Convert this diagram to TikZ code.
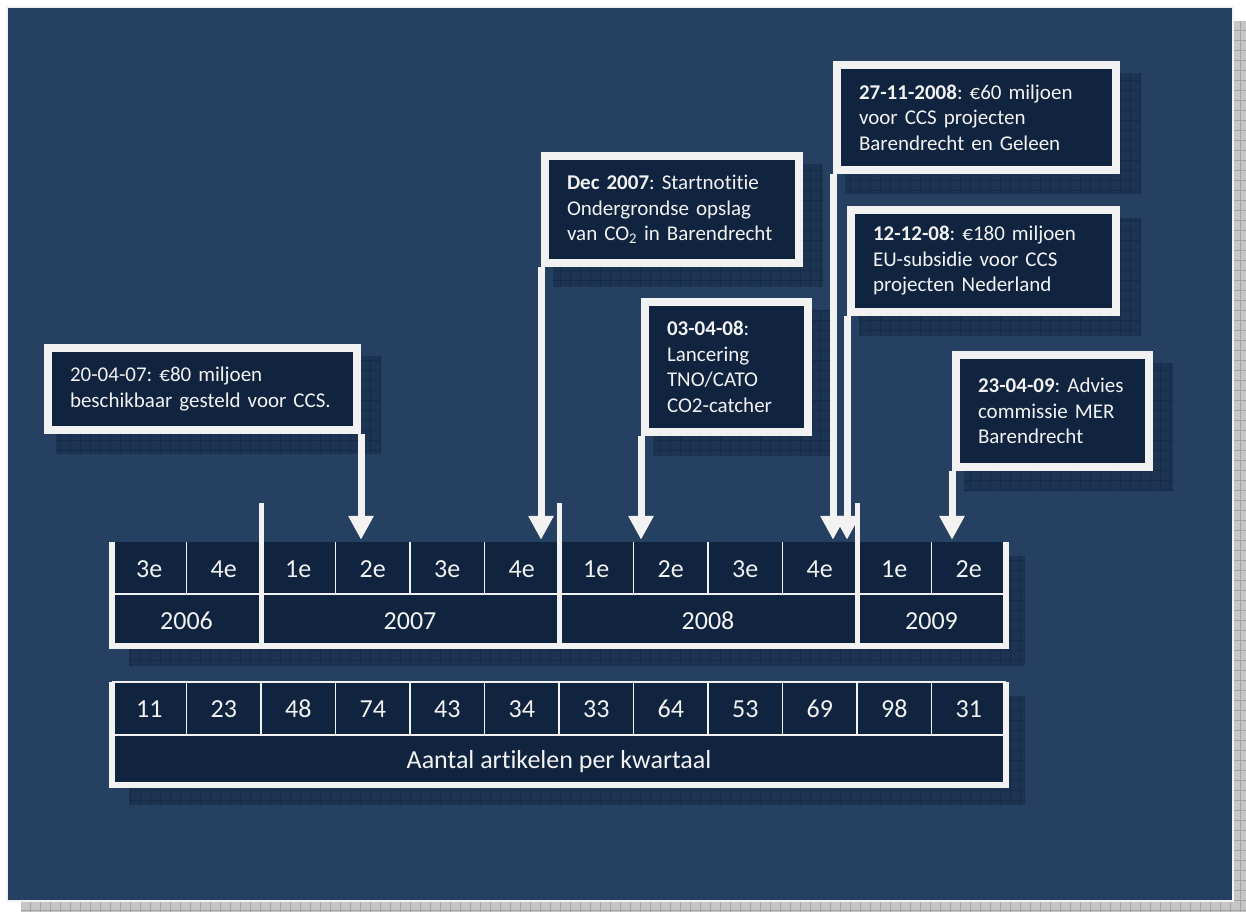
\documentclass[tikz,border=0pt]{standalone}
\usepackage{fontspec}
\setmainfont{Carlito}[Ligatures=NoCommon]
\usetikzlibrary{arrows.meta}
\definecolor{deskblue}{HTML}{264061}
\definecolor{cellnavy}{HTML}{10243F}
\definecolor{paleline}{HTML}{F2F2F2}
\definecolor{shadeblue}{HTML}{1C3352}
\definecolor{shadegridc}{HTML}{152A46}
\definecolor{pagegrey}{HTML}{C6C6C6}
\definecolor{pagegridc}{HTML}{A4A4A4}
\pgfdeclarelayer{backdrop}
\pgfdeclarelayer{shade}
\pgfsetlayers{backdrop,shade,main}
\newcommand\calloutfont{\fontsize{21}{25.5}\selectfont\frenchspacing}
\newcommand\tablefont{\fontsize{26}{30}\selectfont}
\def\castshadow(#1)(#2){\fill[shadeblue] (#1) rectangle (#2); \draw[shadegridc, line width=0.7pt, step=10pt] (#1) grid (#2);}
\tikzset{
  quarter/.style={fill=cellnavy, text=paleline, minimum width=74.5pt, minimum height=52pt, inner sep=0pt, text height=19pt, text depth=0pt, font=\tablefont},
  callout/.style={draw=paleline, line width=8pt, fill=cellnavy, text=paleline, align=left, anchor=north west, inner xsep=22pt, inner ysep=0pt, font=\calloutfont},
  sepline/.style={draw=paleline, line width=1.5pt},
  frameline/.style={draw=paleline, line width=6pt},
  yearbar/.style={draw=paleline, line width=5pt},
  callarrow/.style={draw=paleline, line width=7pt, -{Triangle[width=24pt,length=24pt]}, shorten >=2pt}
}
\begin{document}
\begin{tikzpicture}[x=1pt, y=-1pt]
  %%%%% START %%%%%
  \useasboundingbox (0,0) rectangle (1246,912);

  \begin{pgfonlayer}{backdrop}
    \fill[white] (0,0) rectangle (1246,912);
    \fill[pagegrey] (21,21) rectangle (1246,912);
    \draw[pagegridc, line width=0.7pt, step=10pt] (21,21) grid (1246,912);
    \filldraw[fill=deskblue, draw=paleline, line width=2pt] (7,7) rectangle (1233,901);
  \end{pgfonlayer}

  % quarters and years
  \foreach \lbl [count=\i] in {3e,4e,1e,2e,3e,4e,1e,2e,3e,4e,1e,2e}
    \node[quarter] (q\i) at ({112+74.5*(\i-0.5)}, 568) {\lbl};
  \foreach \yr/\cx/\spanw [count=\j] in {2006/186.5/149, 2007/410/298, 2008/708/298, 2009/931.5/149}
    \node[quarter, minimum width=\spanw pt] (y\j) at (\cx, 620) {\yr};

  \foreach \i in {1,...,11}
    \draw[sepline] (q\i.north east) -- (q\i.south east);
  \draw[sepline] (q1.south west) -- (q12.south east);
  \draw[frameline] (q1.north west) -- (y1.south west) -- (y4.south east) -- (q12.north east);
  \foreach \k in {2,6,10}
    \draw[yearbar] ([yshift=39pt]q\k.north east) -- (q\k.north east |- y1.south);

  % articles per quarter
  \foreach \num [count=\i] in {11,23,48,74,43,34,33,64,53,69,98,31}
    \node[quarter, minimum height=53pt, text height=17pt] (n\i) at ({112+74.5*(\i-0.5)}, 708.5) {\num};
  \node[quarter, minimum width=894pt, minimum height=50pt, text height=17pt] (tot) at (559, 760) {Aantal artikelen per kwartaal};

  \foreach \i in {1,...,11}
    \draw[sepline] (n\i.north east) -- (n\i.south east);
  \draw[sepline] (n1.north west) -- (n12.north east);
  \draw[sepline] (n1.south west) -- (n12.south east);
  \draw[frameline] (n1.north west) -- (tot.south west) -- (tot.south east) -- (n12.north east);

  % events
  \node[callout, text width=265pt, minimum height=82pt] (c1) at (44,344)
    {20-04-07: €80 miljoen\\beschikbaar gesteld voor CCS.};
  \node[callout, text width=210pt, minimum height=107pt] (c2) at (541,152)
    {\textbf{Dec 2007}: Startnotitie\\Ondergrondse opslag\\van CO\textsubscript{2} in Barendrecht};
  \node[callout, text width=119pt, minimum height=130pt] (c3) at (641,298)
    {\textbf{03-04-08}:\\Lancering\\TNO/CATO\\CO2-catcher};
  \node[callout, text width=235pt, minimum height=105pt] (c4) at (833,61)
    {\textbf{27-11-2008}: €60 miljoen\\voor CCS projecten\\Barendrecht en Geleen};
  \node[callout, text width=221pt, minimum height=102pt] (c5) at (847,206)
    {\textbf{12-12-08}: €180 miljoen\\EU-subsidie voor CCS\\projecten Nederland};
  \node[callout, text width=149pt, minimum height=112pt] (c6) at (952,351)
    {\textbf{23-04-09}: Advies\\commissie MER\\Barendrecht};

  \draw[callarrow] (c1.south east) -- (c1.south east |- q4.north);
  \draw[callarrow] (c2.south west) -- (c2.south west |- q6.north);
  \draw[callarrow] (c3.south west) -- (c3.south west |- q8.north);
  \draw[callarrow] (c4.south west) -- (c4.south west |- q10.north);
  \draw[callarrow] (c5.south west) -- (c5.south west |- q10.north);
  \draw[callarrow] (c6.south west) -- (c6.south west |- q12.north);

  \begin{pgfonlayer}{shade}
    \foreach \k in {1,...,6}
      {\castshadow([shift={(12pt,-12pt)}]c\k.north west)([shift={(20pt,-20pt)}]c\k.south east)}
    \castshadow([shift={(17pt,-14pt)}]q1.north west)([shift={(19pt,-20pt)}]y4.south east)
    \castshadow([shift={(17pt,-14pt)}]n1.north west)([shift={(19pt,-20pt)}]tot.south east)
  \end{pgfonlayer}
  %%%%% END %%%%%
\end{tikzpicture}
\end{document}
